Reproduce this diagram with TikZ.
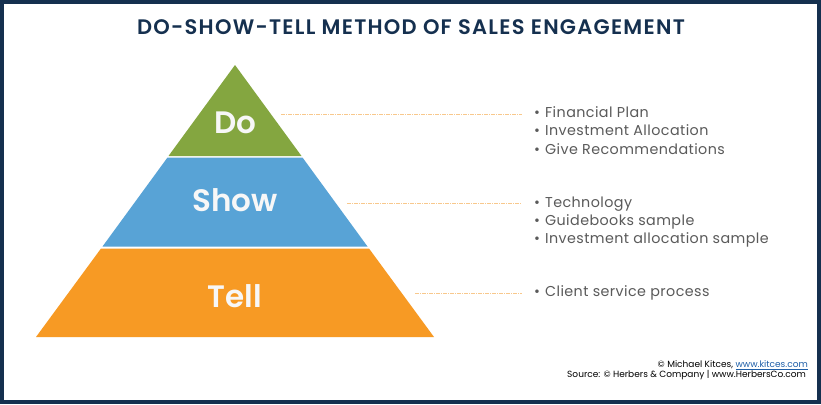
\documentclass[tikz,border=0pt]{standalone}
\usepackage{fontspec}
\setmainfont{Poppins}
\newfontfamily\popsemi{Poppins SemiBold}
\newfontfamily\popsemiwide[LetterSpace=6]{Poppins SemiBold}
\newfontfamily\popwide[LetterSpace=3]{Poppins}
\definecolor{navy}{HTML}{15304F}
\definecolor{dogreen}{HTML}{84A640}
\definecolor{showblue}{HTML}{58A3D6}
\definecolor{tellorange}{HTML}{F79A24}
\definecolor{leader}{HTML}{F8C88C}
\definecolor{txtgray}{HTML}{5A5A5A}
\definecolor{linkblue}{HTML}{1F5FA8}
\tikzset{
  layerlabel/.style={text=white!94!gray, font=\popsemi\fontsize{31}{32}\selectfont, inner sep=0pt},
  leaderline/.style={leader, line width=0.7pt, dash pattern=on 4pt off 1pt on 1pt off 1pt},
  bulletlist/.style={anchor=north west, align=left, text=txtgray, font=\popwide\fontsize{14.3}{18.3}\selectfont, inner sep=0pt},
  foot/.style={anchor=east, text=black, font=\fontsize{9}{10}\selectfont, inner sep=0pt}
}
\begin{document}
\begin{tikzpicture}[x=1pt,y=-1pt]
\useasboundingbox (0,0) rectangle (821,404);
\fill[white] (0,0) rectangle (821,404);
\draw[navy, line width=4pt] (2,2) rectangle (819,402);
% title
\node[text=navy, font=\popsemiwide\fontsize{21}{23}\selectfont, inner sep=0pt] (title) at (411,27) {DO-SHOW-TELL METHOD OF SALES ENGAGEMENT};
% pyramid layers
\fill[dogreen] (235,65) -- (301.5,156) -- (168.5,156) -- cycle;
\fill[showblue] (167.5,157.5) -- (302.5,157.5) -- (367.5,246.5) -- (102.5,246.5) -- cycle;
\fill[tellorange] (101,248.5) -- (369,248.5) -- (434,337) -- (36,337) -- cycle;
\node[layerlabel] (do) at (235,123) {Do};
\node[layerlabel] (show) at (235,200) {Show};
\node[layerlabel] (tell) at (235,296) {Tell};
% leader anchors
\coordinate (doedge) at (281,114.5);
\coordinate (showedge) at (347,203.5);
\coordinate (telledge) at (415,293);
\coordinate (doend) at (522,114.5);
\coordinate (showend) at (522,203.5);
\coordinate (tellend) at (522,293);
\draw[leaderline] (doedge) -- (doend);
\draw[leaderline] (showedge) -- (showend);
\draw[leaderline] (telledge) -- (tellend);
% bullet lists
\node[bulletlist] (dolist) at (534,106.5) {\textbullet\hspace{5pt}Financial Plan\\ \textbullet\hspace{5pt}Investment Allocation\\ \textbullet\hspace{5pt}Give Recommendations};
\node[bulletlist] (showlist) at (534,196.5) {\textbullet\hspace{5pt}Technology\\ \textbullet\hspace{5pt}Guidebooks sample\\ \textbullet\hspace{5pt}Investment allocation sample};
\node[bulletlist] (telllist) at (534,285.5) {\textbullet\hspace{5pt}Client service process};
% footer
\node[foot] (credit) at (808,365.5) {© Michael Kitces, \textcolor{linkblue}{\underline{www.kitces.com}}};
\node[foot] (source) at (806,375.5) {Source: © Herbers \& Company | www.HerbersCo.com};
\end{tikzpicture}
\end{document}
